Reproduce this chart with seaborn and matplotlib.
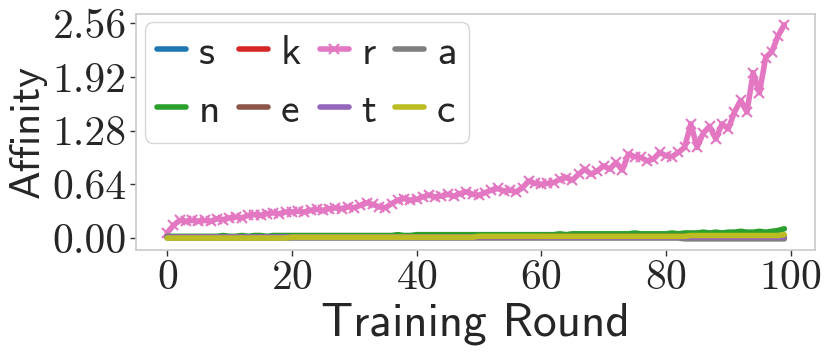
# Affinity per training round for each of the eight groups.

import numpy as np
import pandas as pd
import matplotlib
matplotlib.use("Agg")
import matplotlib.pyplot as plt
from matplotlib.ticker import FormatStrFormatter
import seaborn as sns

rounds = list(range(100))

r_vals = [0.06, 0.15, 0.21, 0.20, 0.21, 0.20, 0.21, 0.20, 0.23, 0.22,
          0.24, 0.25, 0.24, 0.27, 0.28, 0.27, 0.29, 0.30, 0.29, 0.31,
          0.31, 0.32, 0.31, 0.33, 0.34, 0.33, 0.35, 0.36, 0.35, 0.37,
          0.36, 0.39, 0.42, 0.40, 0.37, 0.36, 0.41, 0.45, 0.47, 0.45,
          0.46, 0.49, 0.51, 0.49, 0.50, 0.52, 0.50, 0.53, 0.55, 0.52,
          0.51, 0.54, 0.57, 0.59, 0.56, 0.57, 0.55, 0.60, 0.68, 0.65,
          0.64, 0.65, 0.66, 0.70, 0.72, 0.69, 0.76, 0.82, 0.76, 0.80,
          0.86, 0.82, 0.90, 0.81, 1.00, 0.97, 0.96, 0.92, 0.94, 1.02,
          0.98, 0.97, 1.02, 1.08, 1.36, 1.08, 1.25, 1.33, 1.18, 1.36,
          1.30, 1.50, 1.64, 1.50, 1.97, 1.73, 2.15, 2.22, 2.41, 2.54]

n_vals = [0.02, 0.02, 0.02, 0.02, 0.02, 0.02, 0.02, 0.02, 0.02, 0.03,
          0.02, 0.02, 0.03, 0.02, 0.03, 0.03, 0.02, 0.03, 0.03, 0.03,
          0.03, 0.03, 0.03, 0.03, 0.03, 0.03, 0.03, 0.03, 0.03, 0.03,
          0.03, 0.03, 0.03, 0.03, 0.03, 0.03, 0.03, 0.04, 0.03, 0.03,
          0.04, 0.04, 0.04, 0.04, 0.04, 0.04, 0.04, 0.04, 0.04, 0.04,
          0.04, 0.04, 0.04, 0.04, 0.04, 0.04, 0.04, 0.04, 0.04, 0.04,
          0.04, 0.04, 0.04, 0.05, 0.04, 0.05, 0.05, 0.05, 0.05, 0.05,
          0.05, 0.05, 0.05, 0.05, 0.05, 0.06, 0.05, 0.05, 0.05, 0.05,
          0.05, 0.06, 0.05, 0.06, 0.06, 0.06, 0.07, 0.06, 0.07, 0.06,
          0.07, 0.07, 0.08, 0.07, 0.07, 0.08, 0.07, 0.08, 0.09, 0.11]

c_vals = [0.00, 0.00, 0.00, 0.00, 0.00, 0.00, 0.00, 0.00, 0.00, 0.00,
          0.00, 0.00, 0.00, 0.00, 0.00, 0.00, 0.00, 0.00, 0.00, 0.00,
          0.01, 0.01, 0.01, 0.01, 0.01, 0.01, 0.01, 0.01, 0.01, 0.01,
          0.01, 0.01, 0.01, 0.01, 0.01, 0.01, 0.01, 0.01, 0.01, 0.01,
          0.01, 0.01, 0.01, 0.01, 0.01, 0.01, 0.01, 0.01, 0.01, 0.01,
          0.02, 0.02, 0.02, 0.02, 0.02, 0.02, 0.02, 0.02, 0.02, 0.02,
          0.02, 0.02, 0.02, 0.02, 0.02, 0.02, 0.02, 0.02, 0.02, 0.02,
          0.02, 0.02, 0.02, 0.02, 0.02, 0.02, 0.02, 0.02, 0.02, 0.02,
          0.02, 0.02, 0.02, 0.02, 0.03, 0.03, 0.03, 0.03, 0.03, 0.03,
          0.03, 0.03, 0.03, 0.03, 0.03, 0.03, 0.03, 0.03, 0.03, 0.04]

a_vals = [0.00, 0.00, 0.00, 0.00, 0.00, 0.00, 0.00, 0.00, 0.00, 0.00,
          0.00, 0.00, 0.00, 0.00, 0.00, 0.00, 0.00, 0.00, 0.00, 0.00,
          0.00, 0.00, 0.00, 0.00, 0.00, 0.00, 0.00, 0.00, 0.00, 0.00,
          0.00, 0.00, 0.00, 0.00, 0.00, 0.00, 0.00, 0.00, 0.00, 0.00,
          0.00, 0.00, 0.00, 0.00, 0.00, 0.00, 0.00, 0.00, 0.00, 0.00,
          0.00, 0.00, 0.00, 0.00, 0.00, 0.00, 0.00, 0.00, 0.00, 0.00,
          0.00, 0.00, 0.00, 0.00, 0.00, 0.00, 0.00, 0.00, 0.00, 0.00,
          0.00, 0.00, 0.00, 0.00, 0.00, 0.00, 0.00, 0.00, 0.00, 0.00,
          0.00, 0.00, 0.00, -0.01, -0.01, -0.01, -0.01, -0.01, -0.01, -0.01,
          -0.01, -0.01, -0.01, -0.01, -0.01, -0.01, -0.01, -0.01, -0.01, -0.01]

s_vals = [0.01, 0.01, 0.01, 0.01, 0.01, 0.01, 0.01, 0.01, 0.01, 0.01,
          0.01, 0.01, 0.01, 0.01, 0.01, 0.01, 0.01, 0.01, 0.01, 0.01,
          0.01, 0.01, 0.01, 0.01, 0.01, 0.01, 0.01, 0.01, 0.01, 0.01,
          0.01, 0.01, 0.01, 0.01, 0.01, 0.01, 0.01, 0.01, 0.01, 0.01,
          0.01, 0.01, 0.01, 0.01, 0.01, 0.01, 0.01, 0.01, 0.01, 0.01,
          0.01, 0.01, 0.01, 0.01, 0.01, 0.01, 0.01, 0.01, 0.01, 0.01,
          0.01, 0.01, 0.01, 0.01, 0.01, 0.01, 0.01, 0.01, 0.01, 0.01,
          0.01, 0.01, 0.01, 0.01, 0.01, 0.01, 0.01, 0.01, 0.01, 0.01,
          0.01, 0.01, 0.01, 0.01, 0.01, 0.01, 0.01, 0.01, 0.01, 0.01,
          0.01, 0.01, 0.01, 0.01, 0.01, 0.01, 0.01, 0.01, 0.01, 0.01]

k_vals = s_vals
e_vals = [0.01, 0.01, 0.01, 0.01, 0.01, 0.01, 0.01, 0.01, 0.01, 0.01,
          0.01, 0.01, 0.01, 0.01, 0.01, 0.01, 0.01, 0.01, 0.01, 0.01,
          0.01, 0.01, 0.01, 0.01, 0.01, 0.01, 0.01, 0.01, 0.01, 0.01,
          0.01, 0.01, 0.01, 0.01, 0.01, 0.01, 0.01, 0.01, 0.01, 0.01,
          0.01, 0.01, 0.01, 0.01, 0.01, 0.01, 0.01, 0.01, 0.01, 0.01,
          0.01, 0.01, 0.01, 0.01, 0.01, 0.01, 0.01, 0.01, 0.01, 0.01,
          0.02, 0.02, 0.02, 0.02, 0.02, 0.02, 0.02, 0.02, 0.02, 0.02,
          0.02, 0.02, 0.02, 0.02, 0.02, 0.02, 0.02, 0.02, 0.02, 0.02,
          0.02, 0.02, 0.02, 0.02, 0.02, 0.02, 0.02, 0.02, 0.02, 0.02,
          0.02, 0.02, 0.02, 0.02, 0.02, 0.02, 0.02, 0.02, 0.02, 0.02]
t_vals = s_vals

names = ["s", "k", "r", "a", "n", "e", "t", "c"]
series = [s_vals, k_vals, r_vals, a_vals, n_vals, e_vals, t_vals, c_vals]
colors = ["tab:blue", "tab:red", "tab:pink", "tab:gray",
          "tab:green", "tab:brown", "tab:purple", "tab:olive"]
yticks = [0.00, 0.64, 1.28, 1.92, 2.56]


def LinePlot():
    sns.set_style("whitegrid", {"axes.grid": False, "axes.edgecolor": ".8",
                                "xtick.bottom": True, "ytick.left": True})
    plt.rcParams["font.family"] = ["cmss10", "DejaVu Sans"]
    plt.rcParams["axes.formatter.use_mathtext"] = True
    plt.rcParams["axes.unicode_minus"] = False

    fig, ax = plt.subplots(figsize=(8.31, 3.52), dpi=100)
    fig.subplots_adjust(left=0.164, right=0.981, bottom=0.291, top=0.96)

    for name, vals, col in zip(names, series, colors):
        df = pd.DataFrame({"round": rounds, "value": vals})
        if name == "r":
            sns.lineplot(data=df, x="round", y="value", color=col, lw=4,
                         marker="x", markersize=7, markeredgewidth=1.5,
                         markeredgecolor=col, label=name, ax=ax)
        else:
            sns.lineplot(data=df, x="round", y="value", color=col, lw=4,
                         label=name, ax=ax)

    ax.set_yticks(yticks)
    ax.yaxis.set_major_formatter(FormatStrFormatter("%.2f"))
    ax.set_xticks([0, 20, 40, 60, 80, 100])
    for lab in ax.get_xticklabels() + ax.get_yticklabels():
        lab.set_fontfamily("cmr10")
        lab.set_fontsize(30)
    ax.tick_params(length=4, width=1, color=".2", pad=3)
    for sp in ax.spines.values():
        sp.set_linewidth(1.25)

    ax.set_xlabel("Training Round", fontsize=34)
    ax.set_ylabel("Affinity", fontsize=31)

    # legend reads row by row: s k r a / n e t c
    handles, labels = ax.get_legend_handles_labels()
    order = [0, 4, 1, 5, 2, 6, 3, 7]
    ax.legend([handles[i] for i in order], [labels[i] for i in order],
              loc="upper left", ncol=4, fontsize=30, handlelength=0.7,
              handletextpad=0.3, columnspacing=0.45, labelspacing=0.5,
              borderaxespad=0.2, borderpad=0.3)

    fig.savefig("out.png", dpi=100)


def main():
    LinePlot()


if __name__ == "__main__":
    main()
